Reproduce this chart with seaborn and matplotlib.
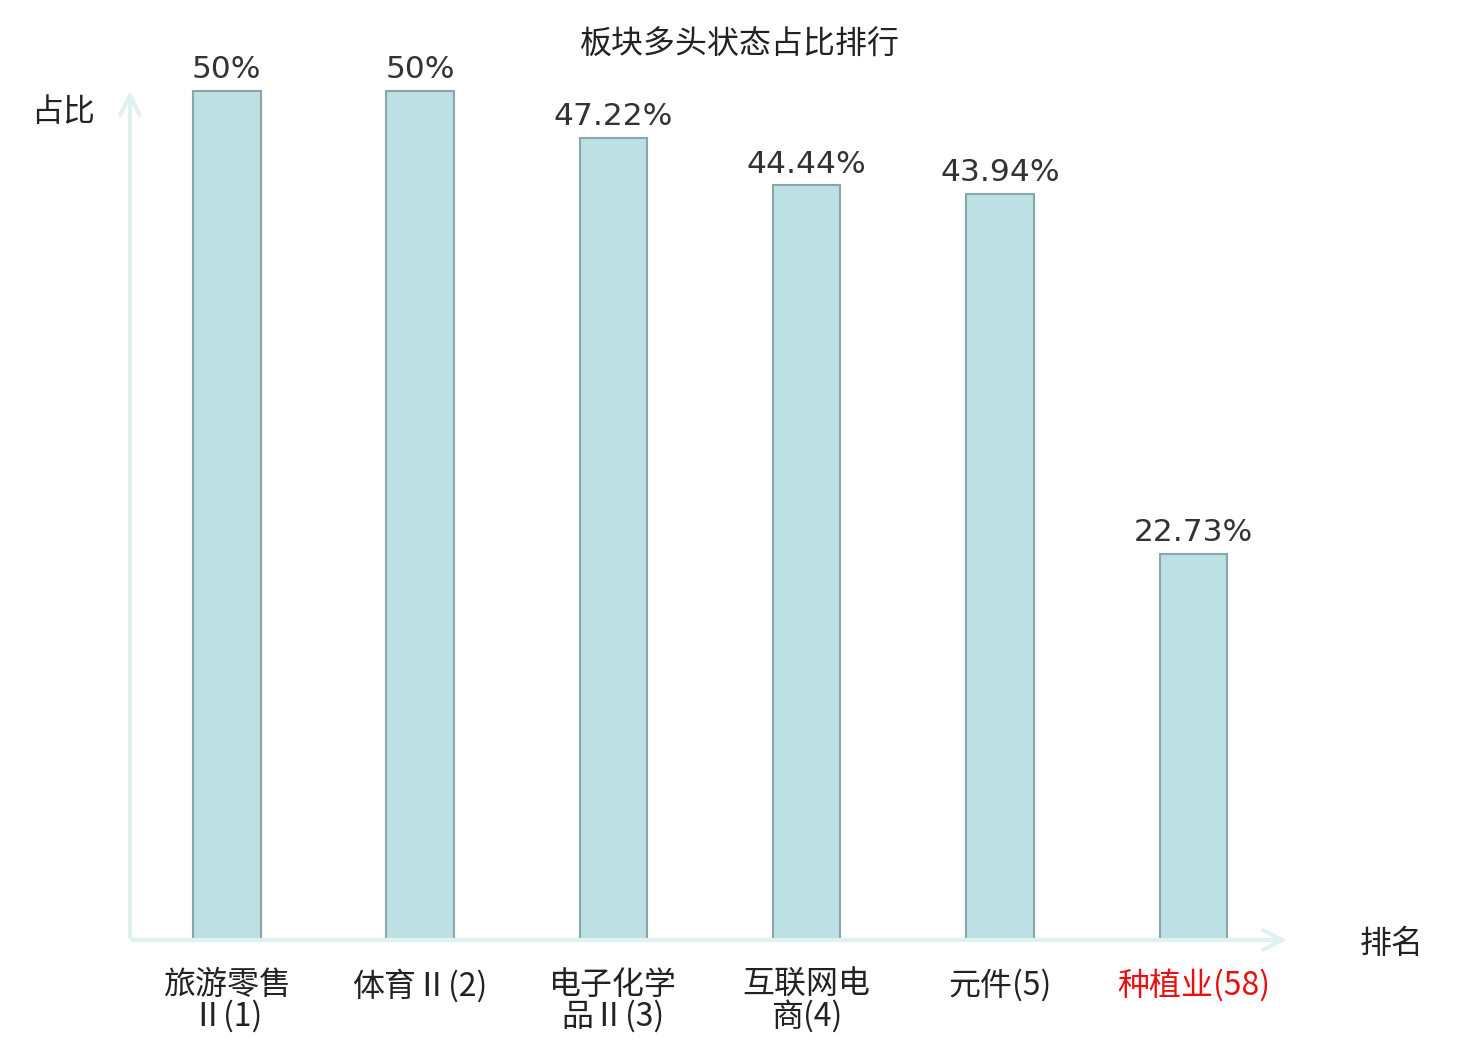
import matplotlib
matplotlib.use('Agg')
import matplotlib.pyplot as plt
import seaborn as sns

# data
categories = ['旅游零售\nⅡ(1)', '体育Ⅱ(2)', '电子化学\n品Ⅱ(3)', '互联网电\n商(4)', '元件(5)', '种植业(58)']
ratios = [50, 50, 47.22, 44.44, 43.94, 22.73]
label_colors = ['#222222'] * 5 + ['#e8110f']

sns.set_style('white')
plt.rcParams['font.family'] = ['Noto Sans CJK SC', 'DejaVu Sans']

fig = plt.figure(figsize=(14.8, 10.4), dpi=100)
ax = fig.add_axes([130 / 1480, 100 / 1040, 1160 / 1480, 852 / 1040])

sns.barplot(x=categories, y=ratios, ax=ax, color='#bce0e3', saturation=1,
            width=0.35, edgecolor='#8aa7a8', linewidth=1.5)

ax.set_xlim(-0.5, 5.5)
ax.set_ylim(0, 50.18)
for s in ax.spines.values():
    s.set_visible(False)
ax.set_yticks([])
ax.tick_params(axis='x', length=0, pad=21, labelsize=23)
for lab, c in zip(ax.get_xticklabels(), label_colors):
    lab.set_color(c)
    lab.set_linespacing(0.95)
    lab.set_verticalalignment('top')

# value labels
ax.bar_label(ax.containers[0], labels=[f'{v:g}%' for v in ratios], padding=5,
             fontsize=22.5, color='#333333', family=['DejaVu Sans'])

# axis arrows
arrow = dict(arrowstyle='->', color='#dff2f0', lw=3, mutation_scale=35)
ax.annotate('', xy=(5.5, 0), xytext=(-0.5, 0), xycoords='data',
            arrowprops=arrow, annotation_clip=False)
ax.annotate('', xy=(-0.5, 50.18), xytext=(-0.5, 0), xycoords='data',
            arrowprops=arrow, annotation_clip=False)

fig.text(740 / 1480, 1 - 45 / 1040, '板块多头状态占比排行', ha='center', va='center', fontsize=23, color='#222222')
fig.text(63 / 1480, 1 - 112 / 1040, '占比', ha='center', va='center', fontsize=23, color='#222222')
fig.text(1392 / 1480, 1 - 944 / 1040, '排名', ha='center', va='center', fontsize=23, color='#222222')

fig.savefig('out.png', dpi=100)
